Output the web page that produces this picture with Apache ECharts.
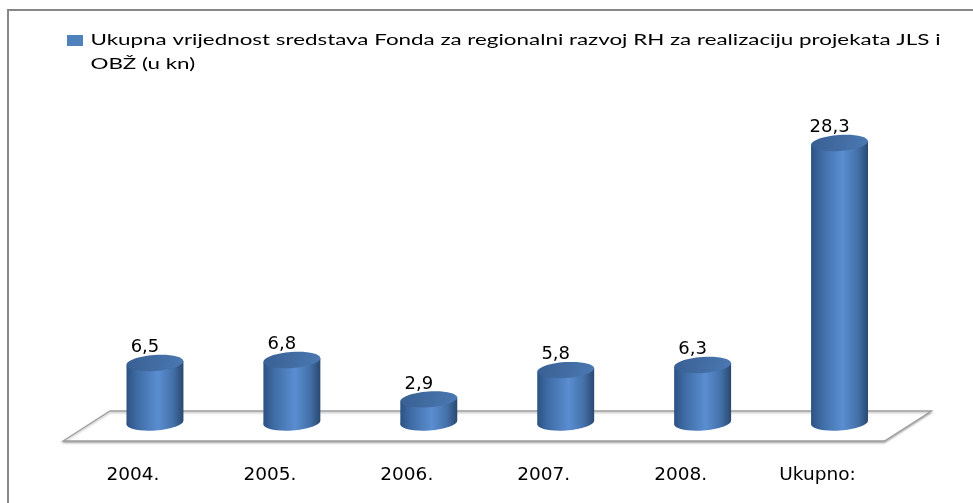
<!DOCTYPE html>
<html>
<head>
<meta charset="utf-8">
<script src="https://cdn.jsdelivr.net/npm/echarts@6/dist/echarts.min.js"></script>
<style>
  html, body { margin: 0; padding: 0; background: #ffffff; }
  #chart { width: 973px; height: 503px; }
</style>
</head>
<body>
<div id="chart"></div>
<script>
// Chart data
const categories = ['2004.', '2005.', '2006.', '2007.', '2008.', 'Ukupno:'];
const values = [6.5, 6.8, 2.9, 5.8, 6.3, 28.3];
const seriesName = 'Ukupna vrijednost sredstava Fonda za regionalni razvoj RH za realizaciju projekata JLS i OBŽ (u kn)';
const legendLines = [
  'Ukupna vrijednost sredstava Fonda za regionalni razvoj RH za realizaciju projekata JLS i',
  'OBŽ (u kn)'
];

// Cylinder styling
const TILT = 0.07;          // slight perspective tilt of the ellipses
const BASE_LIFT = 6;        // base ellipse sits a little behind the zero line
const LABEL_SHIFT = 10;     // value labels lean left with the perspective
const FLOOR_SKEW = 23.5;
const FLOOR_BACK = 17.6;
const FLOOR_FRONT = 12.4;

const fmt = v => v.toFixed(1).replace('.', ',');

const bodyGradient = () => new echarts.graphic.LinearGradient(0, 0, 1, 0, [
  { offset: 0, color: '#2d5283' },
  { offset: 0.18, color: '#3e6ba4' },
  { offset: 0.55, color: '#5a8ed1' },
  { offset: 0.82, color: '#4470a9' },
  { offset: 1, color: '#29496f' }
]);
const topGradient = () => new echarts.graphic.LinearGradient(0, 0, 1, 1, [
  { offset: 0, color: '#385f92' },
  { offset: 1, color: '#4b79b3' }
]);

function renderCylinder(params, api) {
  const idx = api.value(0);
  const v = api.value(1);
  const top = api.coord([idx, v]);
  const zero = api.coord([idx, 0]);
  const band = api.size([1, 0])[0];
  const rx = band * 0.208;
  const ry = rx * 0.28;
  const cx = top[0];
  const tcy = top[1];
  const bcy = zero[1] - BASE_LIFT;
  const d = rx * Math.sin(TILT);
  return {
    type: 'group',
    children: [
      {
        type: 'ellipse',
        shape: { cx: 0, cy: 0, rx: rx, ry: ry },
        x: cx, y: bcy, rotation: TILT,
        style: { fill: bodyGradient() }
      },
      {
        type: 'polygon',
        shape: { points: [[cx - rx, tcy + d], [cx + rx, tcy - d], [cx + rx, bcy - d], [cx - rx, bcy + d]] },
        style: { fill: bodyGradient() }
      },
      {
        type: 'ellipse',
        shape: { cx: 0, cy: 0, rx: rx, ry: ry },
        x: cx, y: tcy, rotation: TILT,
        style: { fill: topGradient() }
      },
      {
        type: 'text',
        x: cx - LABEL_SHIFT,
        y: tcy - 6.5,
        style: {
          text: fmt(v),
          font: '18px "DejaVu Sans"',
          fill: '#000000',
          align: 'center',
          verticalAlign: 'bottom'
        }
      }
    ]
  };
}

function renderFloor(params, api) {
  const cs = params.coordSys;
  const zeroY = api.coord([0, 0])[1];
  const left = cs.x, right = cs.x + cs.width;
  return {
    type: 'polygon',
    shape: {
      points: [
        [left + FLOOR_SKEW, zeroY - FLOOR_BACK],
        [right + FLOOR_SKEW, zeroY - FLOOR_BACK],
        [right - FLOOR_SKEW, zeroY + FLOOR_FRONT],
        [left - FLOOR_SKEW, zeroY + FLOOR_FRONT]
      ]
    },
    style: {
      fill: '#ffffff',
      stroke: '#9d9d9d',
      lineWidth: 1.3,
      shadowColor: 'rgba(0,0,0,0.25)',
      shadowBlur: 2,
      shadowOffsetY: 1.5
    }
  };
}

// Legend text is drawn stretched horizontally
function textWidth(text, font) {
  const ctx = document.createElement('canvas').getContext('2d');
  ctx.font = font;
  return ctx.measureText(text).width;
}
const LEGEND_FONT = '16px Lato';
const legendScale = 850 / textWidth(legendLines[0], LEGEND_FONT);

const chart = echarts.init(document.getElementById('chart'), null, { renderer: 'canvas' });

chart.setOption({
  backgroundColor: '#ffffff',
  animation: false,
  grid: { left: 86.5, width: 821.5, top: 125.9, height: 302.7 },
  xAxis: {
    type: 'category',
    data: categories,
    axisLine: { show: false },
    axisTick: { show: false },
    splitLine: { show: false },
    axisLabel: {
      margin: 37,
      color: '#000000',
      fontFamily: 'DejaVu Sans',
      fontSize: 18.5,
      padding: [0, 44, 0, 0]
    }
  },
  yAxis: {
    type: 'value',
    min: 0,
    max: 30,
    show: false
  },
  graphic: [
    {
      type: 'rect',
      z: -10,
      shape: { x: 8, y: 10, width: 1000, height: 600 },
      style: { fill: 'none', stroke: '#878787', lineWidth: 2 }
    },
    {
      type: 'group',
      children: [
        {
          type: 'rect',
          shape: { x: 67, y: 35, width: 16, height: 11 },
          style: { fill: '#4f81bd' }
        },
        {
          type: 'text',
          x: 90.5,
          y: 28,
          scaleX: legendScale,
          style: {
            text: legendLines.join('\n'),
            font: LEGEND_FONT,
            lineHeight: 24,
            fill: '#000000',
            align: 'left',
            verticalAlign: 'top'
          }
        }
      ]
    }
  ],
  series: [
    {
      type: 'custom',
      name: 'floor',
      z: 1,
      clip: false,
      silent: true,
      renderItem: renderFloor,
      data: [[0, 0]]
    },
    {
      type: 'custom',
      name: seriesName,
      z: 2,
      clip: false,
      renderItem: renderCylinder,
      encode: { x: 0, y: 1 },
      data: values.map((v, i) => [i, v])
    }
  ]
});
</script>
</body>
</html>
